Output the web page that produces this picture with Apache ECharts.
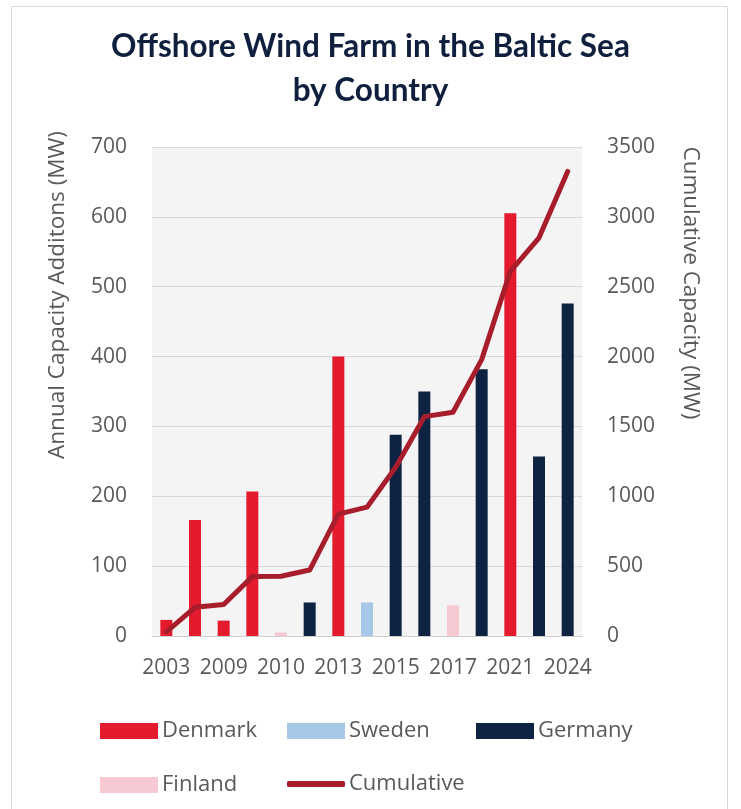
<!DOCTYPE html>
<html>
<head>
<meta charset="utf-8">
<script src="https://cdn.jsdelivr.net/npm/echarts@6/dist/echarts.min.js"></script>
<style>
html,body{margin:0;padding:0;background:#fff;}
#chart{width:741px;height:809px;}
</style>
</head>
<body>
<div id="chart"></div>
<script>
const categories = ['2003','2003','2009','2010','2010','2011','2013','2013','2015','2017','2017','2019','2021','2023','2024'];
const denmark = [23, 166, 22, 207, null, null, 400, null, null, null, null, null, 605, null, null];
const sweden  = [null, null, null, null, null, null, null, 48, null, null, null, null, null, null, null];
const germany = [null, null, null, null, null, 48, null, null, 288, 350, null, 382, null, 257, 476];
const finland = [null, null, null, null, 5, null, null, null, null, null, 44, null, null, null, null];
const cumulative = [30, 205, 225, 425, 428, 472, 872, 922, 1208, 1570, 1602, 1978, 2610, 2850, 3325];
const leftTicks = [0, 700, 100];
const rightTicks = [0, 3500, 500];

const txt = '#595959';
const font = 'Open Sans';
const chart = echarts.init(document.getElementById('chart'));
function legendItem(name, left, top, icon, h) {
  return {
    data: [name], left: left, top: top, icon: icon || 'rect', padding: 0,
    itemWidth: 58, itemHeight: h || 16, itemGap: 0,
    textStyle: { color: txt, fontSize: 22, fontFamily: font, padding: [0,0,0,-1] },
    selectedMode: false
  };
}
chart.setOption({
  backgroundColor: '#fff',
  animation: false,
  title: {
    text: 'Offshore Wind Farm in the Baltic Sea\nby Country',
    left: 'center', top: 20,
    textStyle: { color: '#0f1f3d', fontSize: 31.5, fontWeight: 'bold', fontFamily: 'Lato', lineHeight: 44 }
  },
  graphic: [
    { type: 'rect', shape: { x: 11.5, y: 6.5, width: 716, height: 820 }, style: { fill: 'none', stroke: '#d9d9d9', lineWidth: 1 }, z: -1 },
    { type: 'text', x: 58, y: 295, rotation: Math.PI / 2,
      style: { text: 'Annual Capacity Additons (MW)', fill: txt, font: '22.5px "Open Sans"', align: 'center', verticalAlign: 'middle' } },
    { type: 'text', x: 690, y: 283, rotation: -Math.PI / 2,
      style: { text: 'Cumulative Capacity (MW)', fill: txt, font: '22.5px "Open Sans"', align: 'center', verticalAlign: 'middle' } }
  ],
  legend: [
    legendItem('Denmark', 100, 720),
    legendItem('Sweden', 287, 720),
    legendItem('Germany', 476, 720),
    legendItem('Finland', 100, 774),
    legendItem('Cumulative', 287, 773, 'roundRect', 6)
  ],
  grid: { left: 152, right: 159, top: 147, bottom: 173, show: true, backgroundColor: '#f4f4f4', borderWidth: 0 },
  xAxis: {
    type: 'category', data: categories,
    axisLine: { lineStyle: { color: '#d0d0d0' } },
    axisTick: { show: false },
    axisLabel: { interval: 1, color: txt, fontSize: 21, fontFamily: font, margin: 22 }
  },
  yAxis: [
    { type: 'value', min: leftTicks[0], max: leftTicks[1], interval: leftTicks[2],
      axisLine: { show: false }, axisTick: { show: false },
      splitLine: { lineStyle: { color: '#d9d9d9' } },
      axisLabel: { color: txt, fontSize: 21, fontFamily: font, margin: 25 } },
    { type: 'value', min: rightTicks[0], max: rightTicks[1], interval: rightTicks[2],
      axisLine: { show: false }, axisTick: { show: false }, splitLine: { show: false },
      axisLabel: { color: txt, fontSize: 21, fontFamily: font, margin: 25, formatter: v => String(v) } }
  ],
  series: [
    { name: 'Denmark', type: 'bar', stack: 'a', barWidth: 12, data: denmark, itemStyle: { color: '#e31b2d' } },
    { name: 'Sweden', type: 'bar', stack: 'a', barWidth: 12, data: sweden, itemStyle: { color: '#a8c8ea' } },
    { name: 'Germany', type: 'bar', stack: 'a', barWidth: 12, data: germany, itemStyle: { color: '#0e2342' } },
    { name: 'Finland', type: 'bar', stack: 'a', barWidth: 12, data: finland, itemStyle: { color: '#f7c9d2' } },
    { name: 'Cumulative', type: 'line', yAxisIndex: 1, data: cumulative, symbol: 'none',
      lineStyle: { color: '#a71d2b', width: 5, cap: 'round', join: 'round' }, itemStyle: { color: '#a71d2b' }, z: 5 }
  ]
});
</script>
</body>
</html>
